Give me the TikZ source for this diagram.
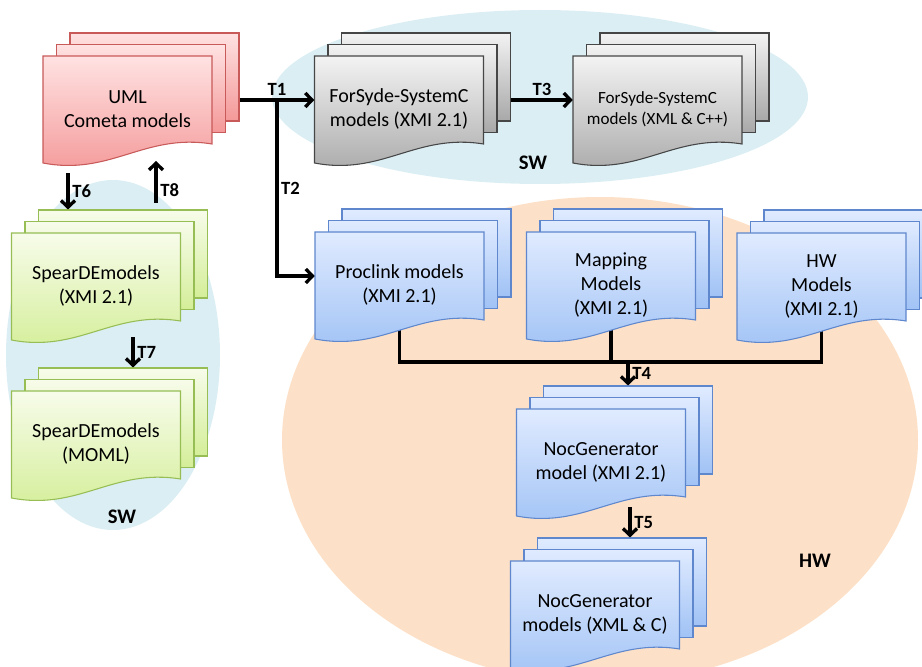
\documentclass[tikz,border=0pt]{standalone}
\usepackage{fontspec}
\setmainfont{Carlito}
\usepackage{tikz}
\usetikzlibrary{arrows.meta, shapes.geometric, calc, backgrounds}

\definecolor{umltop}{RGB}{255,226,226}
\definecolor{umlbot}{RGB}{244,152,152}
\definecolor{umlline}{RGB}{200,90,90}
\definecolor{fstop}{RGB}{243,243,243}
\definecolor{fsbot}{RGB}{168,168,168}
\definecolor{fsline}{RGB}{70,70,70}
\definecolor{sptop}{RGB}{247,252,234}
\definecolor{spbot}{RGB}{212,238,152}
\definecolor{spline}{RGB}{150,190,85}
\definecolor{hwtop}{RGB}{224,235,255}
\definecolor{hwbot}{RGB}{160,194,245}
\definecolor{hwline}{RGB}{95,135,205}
\definecolor{swzonefill}{RGB}{219,238,244}
\definecolor{hwzonefill}{RGB}{252,225,200}

\tikzset{
  sheet/.style={rectangle, minimum width=126.75pt, minimum height=66pt, inner sep=0pt},
  doctext/.style={align=center, inner sep=0pt, font=\fontsize{15}{18}\selectfont},
  smalltext/.style={font=\fontsize{12.8}{15.5}\selectfont},
  umlsheet/.style={draw=umlline, line width=0.8pt, top color=umltop, bottom color=umlbot},
  fssheet/.style={draw=fsline, line width=0.8pt, top color=fstop, bottom color=fsbot},
  spsheet/.style={draw=spline, line width=0.8pt, top color=sptop, bottom color=spbot},
  hwsheet/.style={draw=hwline, line width=0.8pt, top color=hwtop, bottom color=hwbot}
}

% stack of three sheets: name, centre of front sheet, sheet style, text style, text
\newcommand{\docstack}[5]{%
  \begin{scope}[shift={#2}]
    \node[sheet, #3] (#1-3) at (27,-23) {};
    \node[sheet, #3] (#1-2) at (13.5,-11.5) {};
    \path[#3] (-84.5,-44) -- (84.5,-44) -- (84.5,44)
      .. controls (16.9,33) and (-16.9,76) .. (-84.5,63) -- cycle;
    \node[sheet] (#1-1) at (0,0) {};
    \node[doctext, #4] (#1) at (0,9) {#5};
  \end{scope}}

\begin{document}
\begin{tikzpicture}[x=0.75pt, y=-0.75pt,
  zone/.style={ellipse, inner sep=0pt},
  zonelabel/.style={font=\bfseries\fontsize{15.5}{17}\selectfont},
  arr/.style={-{Straight Barb[length=5pt,width=10.5pt]}, line width=2.5pt},
  wire/.style={line width=2.5pt},
  tlabel/.style={font=\bfseries\fontsize{14}{15}\selectfont, inner sep=2pt}
]
\useasboundingbox (0,0) rectangle (922,667);

% zones
\begin{scope}[on background layer]
  \node[zone, fill=swzonefill, minimum width=402pt, minimum height=130.5pt] (swtop) at (540,97) {};
  \node[zone, fill=swzonefill, minimum width=160.5pt, minimum height=262.5pt] (swleft) at (113,355) {};
  \node[zone, fill=hwzonefill, minimum width=477pt, minimum height=364.5pt] (hwzone) at (600,440) {};
\end{scope}
\node[zonelabel] (swtoplabel) at (533,163) {SW};
\node[zonelabel] (swleftlabel) at (122,517) {SW};
\node[zonelabel] (hwlabel) at (815,561) {HW};

% model stacks
\docstack{uml}{(127.5,100)}{umlsheet}{}{UML\\Cometa models}
\docstack{forsydexmi}{(399,100)}{fssheet}{}{ForSyde-SystemC\\models (XMI 2.1)}
\docstack{forsydecpp}{(657.5,100)}{fssheet}{smalltext}{ForSyde-SystemC\\models (XML \& C++)}
\docstack{speardexmi}{(96,277)}{spsheet}{}{SpearDEmodels\\(XMI 2.1)}
\docstack{spearmoml}{(96,435)}{spsheet}{}{SpearDEmodels\\(MOML)}
\docstack{proclink}{(399.5,276)}{hwsheet}{}{Proclink models\\(XMI 2.1)}
\docstack{mapping}{(611,276)}{hwsheet}{}{Mapping\\Models\\(XMI 2.1)}
\docstack{hwmodels}{(821.5,277)}{hwsheet}{}{HW\\Models\\(XMI 2.1)}
\docstack{nocxmi}{(601,453)}{hwsheet}{}{NocGenerator\\model (XMI 2.1)}
\docstack{noccode}{(595,605)}{hwsheet}{}{NocGenerator\\models (XML \& C)}

% transformations
\coordinate (fork) at ($(uml-3.east |- forsydexmi-1.west)!0.5!(forsydexmi-1.west)$);
\coordinate (t6) at (68,173);
\coordinate (t8) at (156,203);
\coordinate (t8end) at (156,161);
\coordinate (t7) at (133,337);
\coordinate (bus) at (611,362);
\coordinate (t5) at (630,507);

\draw[arr] (uml-3.east |- forsydexmi-1.west) -- (forsydexmi-1.west) node[tlabel, midway, above] {T1};
\draw[arr] (fork) |- (proclink-1.west) node[tlabel, pos=0.25, right] {T2};
\draw[arr] (forsydexmi-3.east |- forsydecpp-1.west) -- (forsydecpp-1.west) node[tlabel, midway, above] {T3};
\draw[arr] (t6) -- (t6 |- speardexmi-3.north) node[tlabel, midway, right] {T6};
\draw[arr] (t8) -- (t8end) node[tlabel, pos=0.3, right] {T8};
\draw[arr] (t7) -- (t7 |- spearmoml-3.north) node[tlabel, midway, right] {T7};
\begin{scope}[on background layer]
  \draw[wire] (proclink-1) |- (bus) -| (hwmodels-1);
  \draw[wire] (mapping-1) -- (bus);
\end{scope}
\draw[arr] (nocxmi-3.north |- bus) -- (nocxmi-3.north) node[tlabel, midway, right] {T4};
\draw[arr] (t5) -- (t5 |- noccode-3.north) node[tlabel, midway, right] {T5};
\end{tikzpicture}
\end{document}
